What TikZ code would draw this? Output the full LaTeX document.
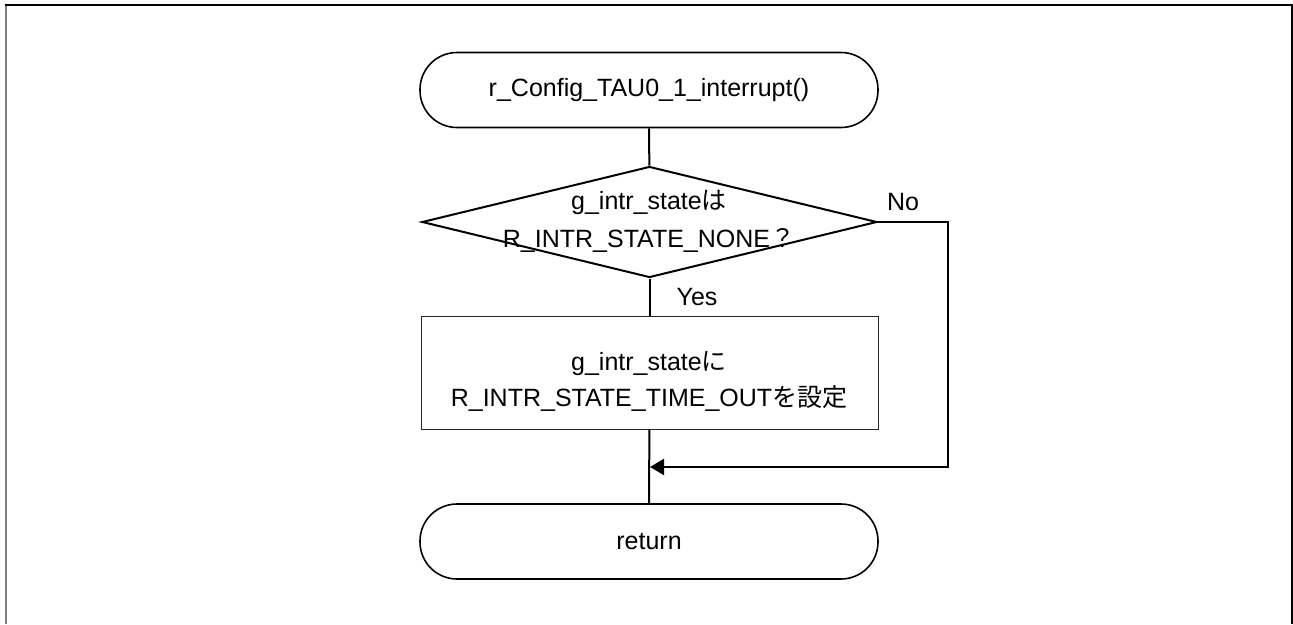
\documentclass[tikz,border=0pt]{standalone}
\usepackage{fontspec}
\setmainfont{Liberation Sans}
\newfontfamily\jp{Noto Sans CJK JP}
\usetikzlibrary{shapes.geometric,arrows.meta}
\begin{document}
\begin{tikzpicture}[x=1pt,y=-1pt,
  txt/.style={font={\fontsize{25pt}{36pt}\selectfont}, align=center, inner sep=0pt},
  term/.style={draw, line width=1.6pt, rounded corners=37pt, minimum width=458pt, minimum height=75pt, txt},
  procbox/.style={draw=black!85, line width=1pt, minimum width=457pt, minimum height=113pt},
  decision/.style={draw, diamond, line width=2pt, minimum width=455pt, minimum height=111pt, inner sep=0pt},
  conn/.style={line width=2pt},
  lbl/.style={font={\fontsize{25pt}{28pt}\selectfont}, inner sep=0pt}
]
\useasboundingbox (0,0) rectangle (1293,624);
% frame
\draw[gray, line width=2pt] (5.5,3.5) -- (5.5,624);
\draw[black, line width=2pt] (4.5,4.5) -- (1292,4.5) -- (1292,624);

\node[term] (start) at (649,90) {r\_Config\_TAU0\_1\_interrupt()};
\node[decision] (dec) at (649.5,222) {};
\node[txt, font={\fontsize{25pt}{38pt}\selectfont}] (dect) at (649,221) {g\_intr\_state{\jp は}\\R\_INTR\_STATE\_NONE{\jp ？}};
\node[procbox] (proc) at (649.5,372.5) {};
\node[txt] (proct) at (649,381) {g\_intr\_state{\jp に}\\R\_INTR\_STATE\_TIME\_OUT{\jp を設定}};
\node[term] (ret) at (649,541.5) {return};

\coordinate (c1) at (948,222);
\coordinate (c2) at (948,467);
\coordinate (m) at (650,467);

\draw[conn] (start) -- (dec);
\draw[conn] (dec) -- (proc);
\draw[conn] (proc) -- (ret);
\draw[conn, -{Triangle[length=14pt,width=16pt]}] (dec.east) -- (c1) -- (c2) -- (m);

\node[lbl] (no) at (903,202) {No};
\node[lbl] (yes) at (697,297) {Yes};
\end{tikzpicture}
\end{document}
